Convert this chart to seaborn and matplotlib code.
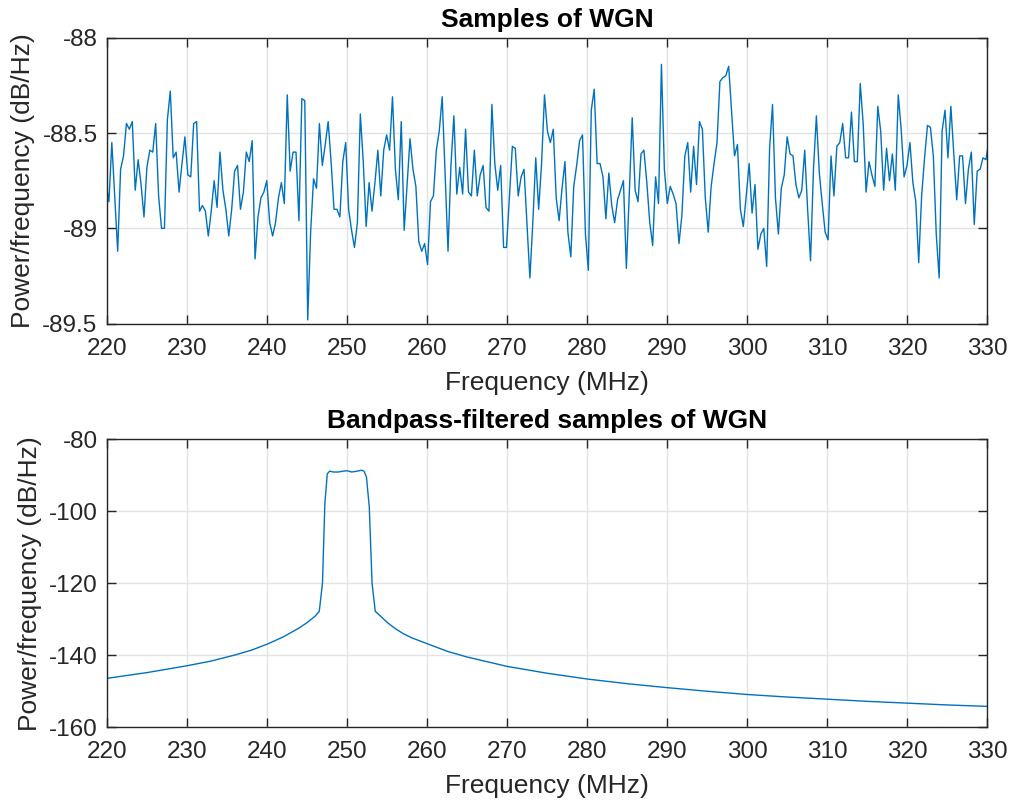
import numpy as np
import pandas as pd
import matplotlib
matplotlib.use("Agg")
import matplotlib.pyplot as plt
import seaborn as sns

# --- dados ---
# espectro do ruído branco (dB/Hz), um valor por bin de frequência
wgn_inicio = 219.84
wgn_fim = 330.2
wgn_db = [
    -88.76, -88.86, -88.55, -88.83, -89.12, -88.69, -88.62, -88.45, -88.48, -88.44,
    -88.80, -88.64, -88.77, -88.94, -88.68, -88.59, -88.60, -88.45, -88.83, -89.00,
    -89.00, -88.43, -88.28, -88.63, -88.60, -88.81, -88.66, -88.52, -88.72, -88.73,
    -88.45, -88.44, -88.91, -88.88, -88.91, -89.04, -88.91, -88.75, -88.89, -88.60,
    -88.80, -88.90, -89.04, -88.90, -88.70, -88.67, -88.90, -88.81, -88.60, -88.65,
    -88.54, -89.16, -88.94, -88.84, -88.81, -88.75, -88.97, -89.04, -88.97, -88.84,
    -88.76, -88.87, -88.30, -88.70, -88.60, -88.60, -88.96, -88.32, -88.33, -89.48,
    -89.02, -88.74, -88.79, -88.45, -88.67, -88.56, -88.44, -88.65, -88.90, -88.90,
    -88.94, -88.65, -88.55, -88.90, -89.01, -89.10, -88.97, -88.40, -88.65, -88.99,
    -88.76, -88.91, -88.76, -88.59, -88.83, -88.59, -88.51, -88.59, -88.31, -88.69,
    -88.85, -88.44, -89.01, -88.77, -88.53, -88.69, -88.78, -89.07, -89.12, -89.08,
    -89.19, -88.86, -88.83, -88.59, -88.49, -88.31, -88.72, -89.12, -88.67, -88.41,
    -88.82, -88.68, -88.82, -88.48, -88.81, -88.83, -88.59, -88.83, -88.72, -88.67,
    -88.89, -88.91, -88.35, -88.66, -88.80, -88.67, -89.10, -89.10, -88.83, -88.57,
    -88.58, -88.83, -88.73, -88.69, -88.97, -89.26, -88.97, -88.63, -88.90, -88.66,
    -88.30, -88.49, -88.55, -88.48, -88.84, -88.96, -88.79, -88.65, -89.02, -89.15,
    -88.78, -88.67, -88.54, -88.51, -89.03, -89.22, -88.38, -88.27, -88.66, -88.66,
    -88.73, -88.95, -88.71, -88.88, -88.97, -88.85, -88.80, -88.75, -89.21, -88.81,
    -88.42, -88.80, -88.86, -88.61, -88.59, -88.76, -88.97, -89.09, -88.73, -88.87,
    -88.14, -88.69, -88.87, -88.78, -88.82, -88.87, -89.08, -88.93, -88.62, -88.55,
    -88.81, -88.57, -88.77, -88.44, -88.48, -88.84, -89.02, -88.78, -88.66, -88.55,
    -88.23, -88.21, -88.20, -88.15, -88.39, -88.62, -88.56, -88.90, -88.99, -88.83,
    -88.66, -88.92, -88.77, -89.11, -89.03, -89.00, -89.20, -88.58, -88.35, -88.84,
    -89.03, -88.79, -88.72, -88.52, -88.61, -88.62, -88.77, -88.84, -88.80, -88.59,
    -88.90, -89.17, -88.69, -88.41, -88.71, -88.87, -89.02, -89.06, -88.62, -88.83,
    -88.57, -88.55, -88.45, -88.63, -88.63, -88.39, -88.65, -88.65, -88.24, -88.45,
    -88.81, -88.65, -88.72, -88.78, -88.36, -88.49, -88.80, -88.58, -88.75, -88.61,
    -88.80, -88.30, -88.48, -88.73, -88.67, -88.55, -88.76, -88.86, -89.18, -88.83,
    -88.63, -88.46, -88.47, -88.62, -89.03, -89.26, -88.49, -88.38, -88.63, -88.36,
    -88.61, -88.85, -88.62, -88.62, -88.87, -88.69, -88.60, -88.98, -88.70, -88.69,
    -88.63, -88.64, -88.54,
]

# espectro depois do filtro passa-faixa
bpf_freq = [
    220, 225, 230, 233, 236, 238, 240, 242, 244, 245, 246, 246.5,
    246.9, 247.2, 247.5, 247.8, 248.25, 248.9, 249.5, 250.0, 250.55, 251.15,
    251.8, 252.1, 252.4, 252.75, 253.1, 253.5, 254, 255, 256, 257, 258,
    260, 262.5, 265, 270, 275, 280, 285, 290, 295, 300, 305, 310, 315,
    320, 325, 330,
]
bpf_db = [
    -146.4, -144.8, -142.9, -141.6, -139.9, -138.6, -136.9, -134.9, -132.4, -130.9, -129.1, -127.8,
    -120.0, -97.9, -89.6, -88.85, -89.1, -89.1, -88.85, -88.75, -89.1, -88.9,
    -88.6, -88.9, -90.5, -98.8, -120.0, -127.8, -128.8, -130.9, -132.6, -134.0, -135.1,
    -136.8, -138.9, -140.5, -143.1, -145.0, -146.6, -147.9, -149.0, -150.0, -150.9, -151.6, -152.2, -152.8,
    -153.3, -153.8, -154.2,
]

x_ticks = [220, 230, 240, 250, 260, 270, 280, 290, 300, 310, 320, 330]
y_ticks_wgn = [-89.5, -89, -88.5, -88]
y_labels_wgn = ["-89.5", "-89", "-88.5", "-88"]
y_ticks_bpf = [-160, -140, -120, -100, -80]

cor_linha = "#0072BD"

sns.set_theme(style="whitegrid")
plt.rcParams['font.family'] = ['Liberation Sans', 'DejaVu Sans']
plt.rcParams['axes.unicode_minus'] = False

fig = plt.figure(figsize=(10.1, 8.07), dpi=100)
ax1 = fig.add_axes([0.1062, 0.5989, 0.8713, 0.3544])
ax2 = fig.add_axes([0.1062, 0.0988, 0.8713, 0.3569])

df_wgn = pd.DataFrame({
    'freq': np.linspace(wgn_inicio, wgn_fim, len(wgn_db)),
    'db': wgn_db,
})
df_bpf = pd.DataFrame({'freq': bpf_freq, 'db': bpf_db})

sns.lineplot(data=df_wgn, x='freq', y='db', color=cor_linha, linewidth=1.0,
             estimator=None, sort=False, ax=ax1)
sns.lineplot(data=df_bpf, x='freq', y='db', color=cor_linha, linewidth=1.0,
             estimator=None, sort=False, ax=ax2)

def estilo_matlab(ax, titulo, yticks, ylim, ylabels=None):
    ax.set_facecolor('white')
    ax.set_xlim(220, 330)
    ax.set_ylim(*ylim)
    ax.set_xticks(x_ticks)
    ax.set_yticks(yticks)
    if ylabels is not None:
        ax.set_yticklabels(ylabels)
    ax.grid(True, color='#e3e3e3', linewidth=1.0)
    ax.set_axisbelow(True)
    for lado in ax.spines.values():
        lado.set_color('#262626')
        lado.set_linewidth(1.0)
        lado.set_visible(True)
    ax.tick_params(direction='in', length=6.5, width=1.0, color='#262626',
                   labelsize=17.5, labelcolor='#262626', top=True, right=True,
                   bottom=True, left=True)
    ax.tick_params(axis='x', pad=10)
    ax.tick_params(axis='y', pad=7)
    ax.set_title(titulo, fontsize=19, fontweight='bold', color='black', pad=8)
    ax.set_xlabel('Frequency (MHz)', fontsize=19, color='#262626', labelpad=8)
    ax.set_ylabel('Power/frequency (dB/Hz)', fontsize=19, color='#262626', labelpad=5)

estilo_matlab(ax1, 'Samples of WGN', y_ticks_wgn, (-89.5, -88), y_labels_wgn)
estilo_matlab(ax2, 'Bandpass-filtered samples of WGN', y_ticks_bpf, (-160, -80))

plt.savefig('out.png', dpi=100)
plt.close()
